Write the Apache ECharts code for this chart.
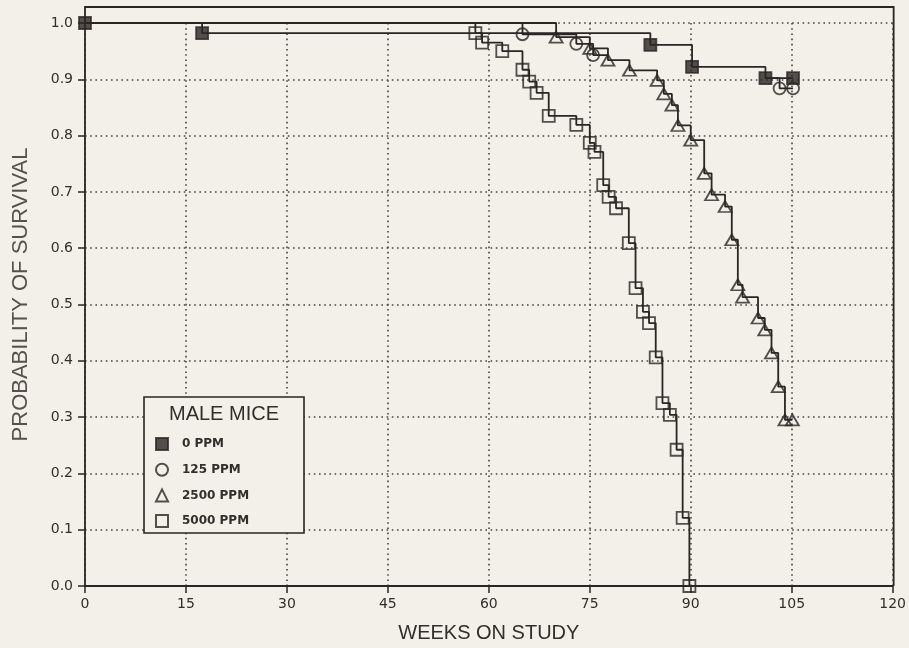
<!DOCTYPE html>
<html><head><meta charset="utf-8">
<script src="https://cdn.jsdelivr.net/npm/echarts@6/dist/echarts.min.js"></script>
<style>html,body{margin:0;padding:0;background:#f2f0e9}#c{width:909px;height:648px}</style>
</head><body><div id="c"></div>
<script>
// ---- data ----
const xTickValues = [0, 15, 30, 45, 60, 75, 90, 105, 120];
const xTickLabels = ['0', '15', '30', '45', '60', '75', '90', '105', '120'];
const yTickValues = [0, 0.1, 0.2, 0.3, 0.4, 0.5, 0.6, 0.7, 0.8, 0.9, 1.0];
const yTickLabels = ['0.0', '0.1', '0.2', '0.3', '0.4', '0.5', '0.6', '0.7', '0.8', '0.9', '1.0'];
const groupNames = ['0 PPM', '125 PPM', '2500 PPM', '5000 PPM'];

// 0 PPM (filled squares)
const weeks0 = [0, 17.4, 84.0, 90.2, 101.1, 105.2];
const surv0 = [1.000, 0.982, 0.961, 0.922, 0.902, 0.902];
// 125 PPM (circles) - markers
const weeks125 = [65.0, 73.0, 75.5, 103.2, 105.2];
const surv125 = [0.980, 0.963, 0.943, 0.884, 0.884];
// 125 PPM visible line pieces
const path125aWeeks = [0, 65.0, 73.0, 75.5, 77.7];
const path125aSurv = [1.000, 0.980, 0.963, 0.943, 0.943];
const path125bWeeks = [101.1, 103.2, 105.2];
const path125bSurv = [0.902, 0.884, 0.884];
// 2500 PPM (triangles)
const weeks2500 = [70.0, 75.0, 77.7, 80.9, 85.0, 86.0, 87.2, 88.1, 90.0, 92.0, 93.1, 95.1, 96.1, 97.0, 97.7, 100.0, 101.0, 102.0, 103.0, 104.0, 105.1];
const surv2500 = [0.975, 0.955, 0.934, 0.916, 0.898, 0.874, 0.854, 0.818, 0.792, 0.733, 0.695, 0.674, 0.615, 0.535, 0.513, 0.476, 0.455, 0.414, 0.354, 0.295, 0.295];
// 5000 PPM (open squares)
const weeks5000 = [58.0, 59.0, 62.0, 65.0, 66.0, 67.1, 68.9, 73.0, 75.0, 75.7, 77.0, 77.8, 78.9, 80.8, 81.8, 82.9, 83.8, 84.8, 85.8, 86.9, 87.9, 88.8, 89.8];
const surv5000 = [0.982, 0.965, 0.950, 0.917, 0.896, 0.876, 0.835, 0.819, 0.787, 0.771, 0.712, 0.691, 0.671, 0.609, 0.529, 0.487, 0.467, 0.406, 0.325, 0.304, 0.242, 0.121, 0.000];
const startWeek = 0, startSurv = 1.0;

// ---- build ----
const INK = '#2b2523';
const TXT = '#332d2b';
const BG = '#f2f0e9';
const zip = (a, b) => a.map((v, i) => [v, b[i]]);
const withStart = (w, s) => [[startWeek, startSurv]].concat(zip(w, s));

function stepLine(data) {
  return {
    type: 'line', step: 'end', data: data, showSymbol: false, silent: true,
    lineStyle: { color: INK, width: 1.8 }, z: 3, animation: false
  };
}
function markers(name, data, symbol, size, fill) {
  return {
    type: 'scatter', name: name, data: data, symbol: symbol, symbolSize: size,
    itemStyle: { color: fill, borderColor: INK, borderWidth: 1.8 }, z: 4, animation: false
  };
}

const chart = echarts.init(document.getElementById('c'), null, { renderer: 'canvas' });
const option = {
  backgroundColor: BG,
  animation: false,
  textStyle: { fontFamily: 'DejaVu Sans' },
  grid: { left: 85, right: 16, top: 23, bottom: 62, containLabel: false },
  xAxis: {
    type: 'value', min: 0, max: 120, interval: 15,
    name: 'WEEKS ON STUDY', nameLocation: 'middle', nameGap: 37,
    nameTextStyle: { fontFamily: 'Liberation Sans', fontSize: 20, color: TXT },
    axisLine: { onZero: false, lineStyle: { color: INK, width: 1.8 } },
    axisTick: { show: true, length: 7, lineStyle: { color: INK, width: 1.5 } },
    axisLabel: {
      margin: 11, fontSize: 14, color: TXT, fontFamily: 'DejaVu Sans',
      formatter: v => { const i = xTickValues.indexOf(v); return i >= 0 ? xTickLabels[i] : ''; }
    },
    splitLine: { show: true, lineStyle: { color: '#4a4442', width: 1.6, type: [1.6, 3.6] } }
  },
  yAxis: {
    type: 'value', min: 0, max: 1.0, interval: 0.1,
    axisLine: { onZero: false, lineStyle: { color: INK, width: 1.8 } },
    axisTick: { show: true, length: 7, lineStyle: { color: INK, width: 1.5 } },
    axisLabel: {
      margin: 12, fontSize: 14, color: TXT, fontFamily: 'DejaVu Sans',
      formatter: v => {
        for (let i = 0; i < yTickValues.length; i++) if (Math.abs(yTickValues[i] - v) < 1e-6) return yTickLabels[i];
        return '';
      }
    },
    splitLine: { show: true, lineStyle: { color: '#4a4442', width: 1.6, type: [1.6, 3.6] } }
  },
  legend: {
    orient: 'vertical', left: 150, top: 432, itemWidth: 12, itemHeight: 12, itemGap: 11.7,
    data: groupNames, selectedMode: false, z: 20,
    textStyle: { fontFamily: 'DejaVu Sans', fontSize: 12, fontWeight: 'bold', color: TXT, padding: [0, 0, 0, 9] }
  },
  series: [
    stepLine(zip(weeks0, surv0)),
    stepLine(zip(path125aWeeks, path125aSurv)),
    stepLine(zip(path125bWeeks, path125bSurv)),
    stepLine(withStart(weeks2500, surv2500)),
    stepLine(withStart(weeks5000, surv5000)),
    markers(groupNames[0], zip(weeks0, surv0), 'rect', 12, INK),
    markers(groupNames[1], zip(weeks125, surv125), 'circle', 12, 'rgba(0,0,0,0)'),
    markers(groupNames[2], zip(weeks2500, surv2500), 'triangle', [13, 11], 'rgba(0,0,0,0)'),
    markers(groupNames[3], zip(weeks5000, surv5000), 'rect', 12, 'rgba(0,0,0,0)')
  ]
};
chart.setOption(option);

// frame above the 1.0 level and on the right, y title, legend box/title
const pTL = chart.convertToPixel({ gridIndex: 0 }, [0, 1.0]);
const pBR = chart.convertToPixel({ gridIndex: 0 }, [120, 0]);
const frameTop = pTL[1] - 16;
chart.setOption({
  graphic: [
    { type: 'polyline', z: 10, silent: true,
      shape: { points: [[pTL[0], pTL[1]], [pTL[0], frameTop], [pBR[0] + 1, frameTop], [pBR[0] + 1, pBR[1]]] },
      style: { stroke: INK, lineWidth: 1.8, fill: null } },
    { type: 'text', z: 10, silent: true, x: 21, y: (pTL[1] + pBR[1]) / 2 - 10, rotation: Math.PI / 2,
      style: { text: 'PROBABILITY OF SURVIVAL', textAlign: 'center', textVerticalAlign: 'middle',
        font: '22px "Liberation Sans"', fill: '#57504e' } },
    { type: 'rect', z: 2, silent: true,
      shape: { x: 144, y: 397, width: 160, height: 136 },
      style: { fill: BG, stroke: INK, lineWidth: 1.6 } },
    { type: 'text', z: 3, silent: true,
      style: { text: 'MALE MICE', x: 224, y: 414, textAlign: 'center', textVerticalAlign: 'middle',
        font: '20px "Liberation Sans"', fill: TXT } }
  ]
});
</script></body></html>
